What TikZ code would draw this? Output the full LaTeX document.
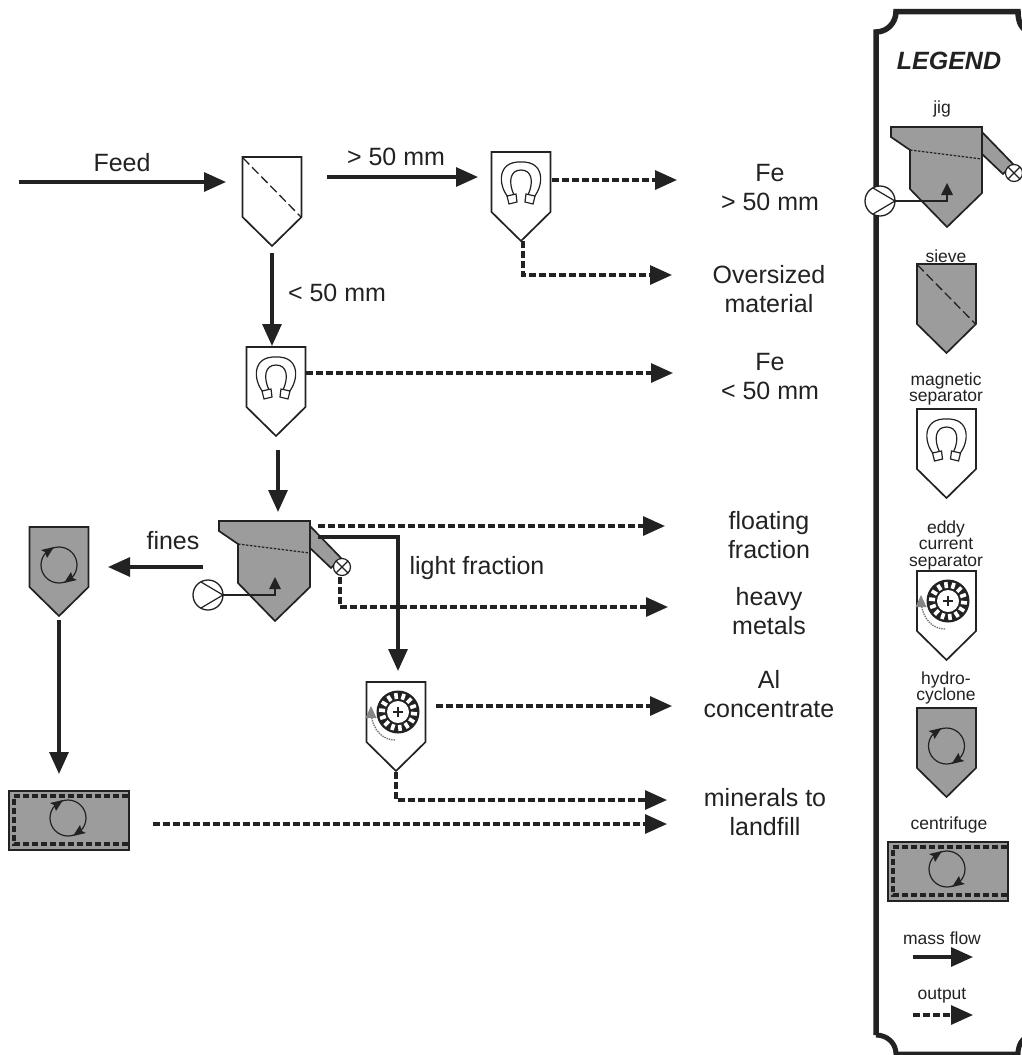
\documentclass[tikz,border=0pt]{standalone}
\usepackage{fontspec}
\setmainfont{Liberation Sans}
\usetikzlibrary{arrows.meta}
\definecolor{ink}{HTML}{222222}
\definecolor{steel}{HTML}{9C9C9C}
\tikzset{
  x=1pt,y=-1pt,
  flow/.style={draw=ink,line width=3.2pt,-{Triangle[length=22pt,width=19pt]}},
  output/.style={flow,dash pattern=on 7pt off 3pt},
  outline/.style={draw=ink,line width=1.7pt,line join=miter},
  biglabel/.style={text=ink,align=center,font=\fontsize{25}{29}\selectfont,inner sep=0pt},
  smalllabel/.style={text=ink,align=center,font=\fontsize{17.5}{16.5}\selectfont,inner sep=0pt},
  % pentagon housing; origin = top centre
  housing/.pic={
    \path[outline,pic actions] (-29.5,0) -- (29.5,0) -- (29.5,60) -- (0,89) -- (-29.5,60) -- cycle;
    \coordinate (-top) at (0,0);
    \coordinate (-tip) at (0,89);
  },
  sievelook/.pic={
    \draw[ink,line width=1.3pt,dash pattern=on 9pt off 4pt] (-29,1) -- (29,60);
  },
  magnetlook/.pic={
    \draw[ink,line width=1.2pt,fill=white]
      (-13,45) .. controls (-23,33) and (-24,9) .. (0,10)
      .. controls (24,9) and (23,33) .. (13,45)
      -- (7,43) .. controls (13,30) and (11,18) .. (0,18)
      .. controls (-11,18) and (-13,30) .. (-7,43) -- cycle;
    \draw[ink,line width=1.2pt,fill=white] (-14,44) -- (-5,42) -- (-4,50) -- (-12,52) -- cycle;
    \draw[ink,line width=1.2pt,fill=white] (14,44) -- (5,42) -- (4,50) -- (12,52) -- cycle;
  },
  cyclonelook/.pic={
    \draw[ink,line width=1.2pt] (0,0) circle[radius=18];
    \fill[ink] (-5,-18) -- (-18,-15) -- (-14,-13) -- (-12,-7) -- cycle;
    \fill[ink] (5,18) -- (18,15) -- (14,13) -- (12,7) -- cycle;
  },
  eddylook/.pic={
    \fill[ink] (0,0) circle[radius=21.5];
    \foreach \i in {0,...,13}
      \draw[white,line width=3.6pt] ({\i*360/14+6}:13) -- ({\i*360/14+6}:19);
    \fill[white] (0,0) circle[radius=11];
    \draw[ink,line width=1.2pt] (-5,0) -- (5,0) (0,-5) -- (0,5);
    \draw[steel!70!ink,line width=1.4pt,densely dotted] (-3,28) .. controls (-14,28) and (-25,20) .. (-27,1);
    \fill[steel!85!black] (-27,-6) -- (-21.5,6) -- (-32.5,6) -- cycle;
  },
  jiglook/.pic={
    \path[outline,fill=steel] (91,5) -- (122,37) -- (112,47) -- (91,27) -- cycle;
    \path[outline,fill=steel] (0,0) -- (91,0) -- (91,66) -- (56,100) -- (19,62) -- (19,23) -- (0,10) -- cycle;
    \draw[ink,line width=1.2pt,dash pattern=on 2.5pt off 1.5pt] (19,23) -- (91,32);
    \draw[ink,line width=1.2pt,fill=white] (123,46) circle[radius=8.5];
    \draw[ink,line width=1.1pt] (117,40) -- (129,52) (117,52) -- (129,40);
    \draw[ink,line width=1.4pt] (4,74) -- (56,74) -- (56,62);
    \fill[ink] (56,56) -- (62,68) -- (50,68) -- cycle;
    \draw[ink,line width=1.3pt,fill=white] (-11,74) circle[radius=15];
    \draw[ink,line width=1.2pt] (-18,61) -- (4,74) -- (-18,87);
    \coordinate (-origin) at (0,0);
  },
  centrifugelook/.pic={
    \path[outline,fill=steel] (0,0) rectangle (120,59);
    \draw[ink,line width=3.2pt,dash pattern=on 6pt off 3pt] (119,5) -- (5,5) -- (5,53) -- (120,53);
  }
}
\begin{document}
\begin{tikzpicture}
\useasboundingbox (0,0) rectangle (1022,1055);

% Legend frame
\draw[ink,line width=5.5pt]
  (876,1035) -- (876,32) .. controls (887,32) and (896,23) .. (896,11.5) -- (1018,11.5)
  .. controls (1018,23) and (1022,30) .. (1030,32);
\draw[ink,line width=5pt]
  (876,1035) .. controls (887,1035) and (896,1043) .. (896,1054) -- (1018,1054)
  .. controls (1018,1045) and (1022,1038) .. (1030,1035);

% Main machines
\pic[fill=white] (sv) at (272,157) {housing};
\pic at (272,157) {sievelook};
\pic[fill=white] (ma) at (521,152) {housing};
\pic at (521,152) {magnetlook};
\pic[fill=white] (mb) at (276,347) {housing};
\pic at (276,347) {magnetlook};
\pic (jg) at (219,521) {jiglook};
\pic[fill=steel] (hc) at (59,527) {housing};
\pic at (59,565) {cyclonelook};
\pic[fill=white] (ed) at (396,682) {housing};
\pic at (398,712) {eddylook};
\pic (cf) at (9,791) {centrifugelook};
\pic at (68,818) {cyclonelook};

% Connector ends
\coordinate (feedA) at (19,182);    \coordinate (feedB) at (226,182);
\coordinate (coarseA) at (327,177); \coordinate (coarseB) at (478,177);
\coordinate (feA) at (552,180);     \coordinate (feB) at (677,180);
\coordinate (ovA) at (523,241);     \coordinate (ovB) at (672,275);
\coordinate (fineA) at (272,253);   \coordinate (fineB) at (272,346);
\coordinate (fe2A) at (306,373);    \coordinate (fe2B) at (673,373);
\coordinate (toJigA) at (278,450);  \coordinate (toJigB) at (278,512);
\coordinate (floatA) at (318,526);  \coordinate (floatB) at (665,526);
\coordinate (lightA) at (318,537);  \coordinate (lightB) at (398,671);
\coordinate (heavyA) at (340,577);  \coordinate (heavyB) at (668,607);
\coordinate (finesA) at (203,567);  \coordinate (finesB) at (108,567);
\coordinate (hcA) at (59,620);      \coordinate (hcB) at (59,774);
\coordinate (cfA) at (153,824);     \coordinate (cfB) at (667,824);
\coordinate (alA) at (436,706);     \coordinate (alB) at (672,706);
\coordinate (minA) at (396,772);    \coordinate (minB) at (667,800);

% Connectors
\draw[flow] (feedA) -- (feedB);
\draw[flow] (coarseA) -- (coarseB);
\draw[output] (feA) -- (feB);
\draw[output] (ovA) |- (ovB);
\draw[flow] (fineA) -- (fineB);
\draw[output] (fe2A) -- (fe2B);
\draw[flow] (toJigA) -- (toJigB);
\draw[output] (floatA) -- (floatB);
\draw[flow] (lightA) -| (lightB);
\draw[output] (heavyA) |- (heavyB);
\draw[flow] (finesA) -- (finesB);
\draw[flow] (hcA) -- (hcB);
\draw[output] (cfA) -- (cfB);
\draw[output] (alA) -- (alB);
\draw[output] (minA) |- (minB);

% Labels
\node[biglabel] (lFeed) at (122,163) {Feed};
\node[biglabel] (lCoarse) at (396,157) {> 50 mm};
\node[biglabel] (lFine) at (337,293) {< 50 mm};
\node[biglabel] (lFines) at (173,541) {fines};
\node[biglabel] (lLight) at (477,568) {light fraction};
\node[biglabel] (oFe) at (770,188) {Fe\\> 50 mm};
\node[biglabel] (oOver) at (769,289) {Oversized\\material};
\node[biglabel] (oFe2) at (770,377) {Fe\\< 50 mm};
\node[biglabel] (oFloat) at (769,535) {floating\\fraction};
\node[biglabel] (oHeavy) at (769,611) {heavy\\metals};
\node[biglabel] (oAl) at (769,694) {Al\\concentrate};
\node[biglabel] (oMin) at (765,812) {minerals to\\landfill};

% Legend contents
\node[biglabel,font=\fontsize{25}{29}\selectfont\bfseries\itshape] (lgTitle) at (949,61) {LEGEND};
\node[smalllabel] (lgJig) at (942,109) {jig};
\pic (ljg) at (891,127) {jiglook};
\node[smalllabel] (lgSieve) at (946,256) {sieve};
\pic[fill=steel] (lsv) at (946.5,264) {housing};
\pic at (946.5,264) {sievelook};
\node[smalllabel] (lgMag) at (946,389) {magnetic\\separator};
\pic[fill=white] (lma) at (946.5,409) {housing};
\pic at (946.5,409) {magnetlook};
\node[smalllabel] (lgEddy) at (946,545) {eddy\\current\\separator};
\pic[fill=white] (led) at (946.5,571) {housing};
\pic at (948,601) {eddylook};
\node[smalllabel] (lgHydro) at (946,688) {hydro-\\cyclone};
\pic[fill=steel] (lhc) at (946.5,708) {housing};
\pic at (946.5,746) {cyclonelook};
\node[smalllabel] (lgCf) at (949,825) {centrifuge};
\pic (lcf) at (888,842) {centrifugelook};
\pic at (947,869) {cyclonelook};
\node[smalllabel] (lgFlow) at (942,938) {mass flow};
\coordinate (lgFlowA) at (913,957); \coordinate (lgFlowB) at (973,957);
\draw[flow] (lgFlowA) -- (lgFlowB);
\node[smalllabel] (lgOut) at (942,996) {output};
\coordinate (lgOutA) at (913,1015); \coordinate (lgOutB) at (973,1015);
\draw[output] (lgOutA) -- (lgOutB);
\end{tikzpicture}
\end{document}
